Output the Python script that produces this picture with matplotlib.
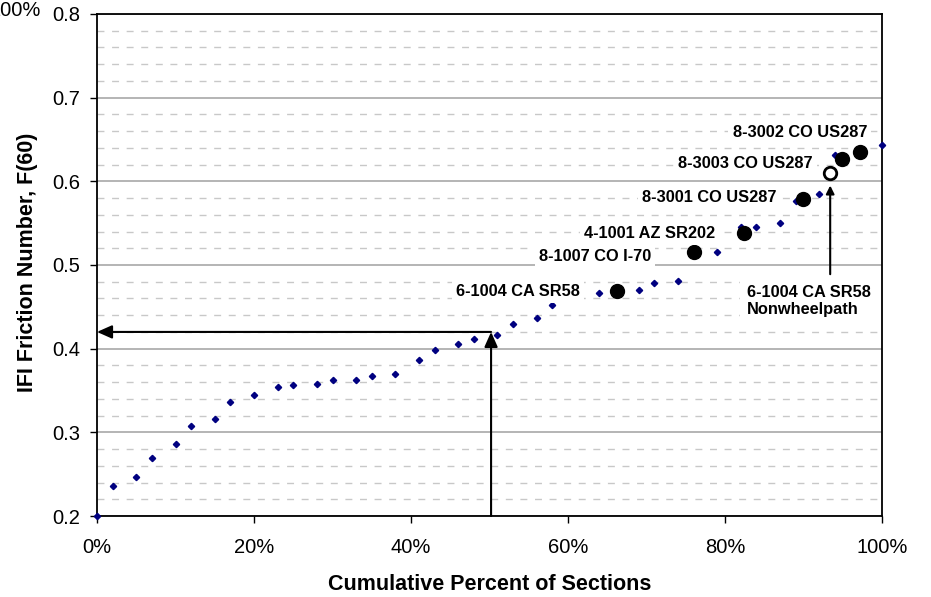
import matplotlib
matplotlib.use("Agg")
import matplotlib.pyplot as plt
from matplotlib.ticker import MultipleLocator, FuncFormatter

plt.rcParams["font.family"] = ["Liberation Sans", "DejaVu Sans"]

# all sections, ranked
pct = [0, 2, 5, 7, 10, 12, 15, 17, 20, 23, 25, 28, 30, 33, 35, 38, 41, 43, 46, 48,
       51, 53, 56, 58, 61, 64, 66, 69, 71, 74, 76, 79, 82, 84, 87, 89, 92, 94, 97, 100]
f60 = [0.200, 0.236, 0.247, 0.269, 0.286, 0.307, 0.316, 0.336, 0.345, 0.354,
       0.356, 0.358, 0.362, 0.362, 0.367, 0.370, 0.386, 0.399, 0.405, 0.411,
       0.416, 0.430, 0.437, 0.452, 0.460, 0.466, 0.469, 0.470, 0.478, 0.481,
       0.514, 0.516, 0.546, 0.546, 0.550, 0.576, 0.585, 0.631, 0.634, 0.643]

# highlighted sections
hl_names = ["6-1004 CA SR58", "8-1007 CO I-70", "4-1001 AZ SR202",
            "8-3001 CO US287", "8-3003 CO US287", "8-3002 CO US287"]
hl_pct = [66.2, 76.1, 82.4, 89.9, 94.9, 97.2]
hl_f60 = [0.469, 0.516, 0.538, 0.579, 0.627, 0.635]

# nonwheelpath section
nw_name = "6-1004 CA SR58\nNonwheelpath"
nw_pct = [93.4]
nw_f60 = [0.610]

# median marker
med_pct = 50.2
med_f60 = 0.42

fig = plt.figure(figsize=(9.31, 5.97), dpi=100)
ax = fig.add_axes([97 / 931, 1 - 516 / 597, 785 / 931, 502 / 597])

ax.set_xlim(0, 100)
ax.set_ylim(0.2, 0.8)

ax.yaxis.set_major_locator(MultipleLocator(0.1))
ax.yaxis.set_minor_locator(MultipleLocator(0.02))
ax.xaxis.set_major_locator(MultipleLocator(20))
ax.xaxis.set_major_formatter(FuncFormatter(lambda v, p: "%d%%" % v))
ax.yaxis.set_major_formatter(FuncFormatter(lambda v, p: "%.1f" % v))

ax.grid(axis="y", which="major", color="#a8a8a8", linewidth=1.2, linestyle="-")
ax.grid(axis="y", which="minor", color="#c8c8c8", linewidth=1.0, linestyle=(0, (5, 5.5)))
ax.set_axisbelow(True)

ax.tick_params(axis="both", which="major", labelsize=14.5, direction="out",
               length=5, width=1, color="black")
ax.tick_params(axis="x", pad=11)
ax.tick_params(axis="y", pad=7)
ax.tick_params(axis="y", which="minor", length=0)
for s in ax.spines.values():
    s.set_linewidth(1.3)
    s.set_zorder(2)

ax.plot(pct, f60, linestyle="none", marker="D", markersize=3.2, color="#000080",
        clip_on=False, zorder=3)
ax.plot(hl_pct, hl_f60, linestyle="none", marker="o", markersize=10, color="black",
        clip_on=False, zorder=4)
ax.plot(nw_pct, nw_f60, linestyle="none", marker="o", markersize=9, markerfacecolor="white",
        markeredgecolor="black", markeredgewidth=2, clip_on=False, zorder=4)

box = dict(facecolor="white", edgecolor="none", pad=3)
lbl_pos = [(61.5, 0.468), (70.6, 0.510), (78.7, 0.538), (86.6, 0.581), (91.2, 0.621), (98.1, 0.658)]
for name, (lx, ly) in zip(hl_names, lbl_pos):
    ax.text(lx, ly, name, ha="right", va="center", fontsize=11.8, fontweight="bold",
            bbox=box, zorder=5)

ax.text(82.8, 0.457, nw_name, ha="left", va="center", fontsize=11.8, fontweight="bold",
        linespacing=1.1, bbox=dict(facecolor="white", edgecolor="none", pad=5),
        zorder=5, clip_on=False)
ax.annotate("", xy=(93.4, 0.595), xytext=(93.4, 0.489),
            arrowprops=dict(arrowstyle="-|>", color="black", lw=1.5,
                            mutation_scale=12, shrinkA=0, shrinkB=0), zorder=6)

# median arrows
big_head = "-|>,head_length=0.45,head_width=0.2"
ax.annotate("", xy=(med_pct, med_f60), xytext=(med_pct, 0.2),
            arrowprops=dict(arrowstyle=big_head, color="black", lw=1.5,
                            mutation_scale=20, shrinkA=0, shrinkB=0), zorder=6)
ax.annotate("", xy=(0, med_f60), xytext=(med_pct, med_f60),
            arrowprops=dict(arrowstyle=big_head, color="black", lw=1.5,
                            mutation_scale=20, shrinkA=0, shrinkB=0), zorder=6)

ax.set_ylabel("IFI Friction Number, F(60)", fontsize=15.5, fontweight="bold")
ax.set_xlabel("Cumulative Percent of Sections", fontsize=15.5, fontweight="bold")
ax.xaxis.set_label_coords((490 - 97) / 785, (516 - 574) / 502)
ax.yaxis.set_label_coords((38 - 97) / 785, (516 - 262) / 502)

fig.text(41 / 931, 1 - 10 / 597, "100%", ha="right", va="center", fontsize=14.5)

fig.savefig("out.png", dpi=100)
